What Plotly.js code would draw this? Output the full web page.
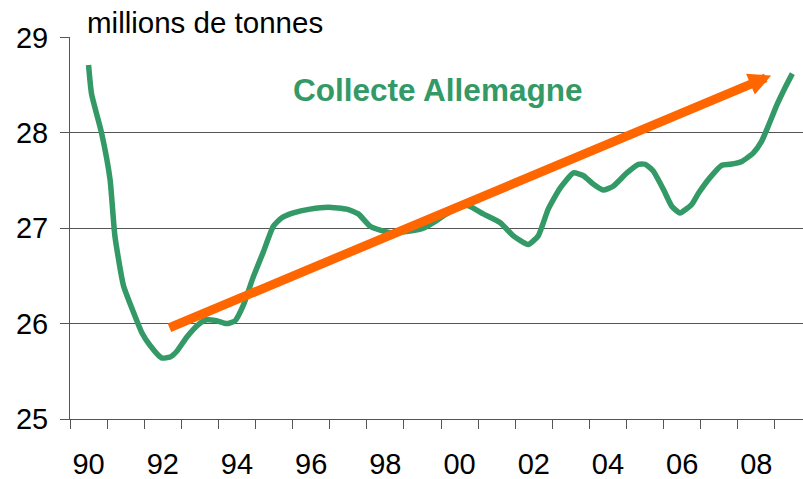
<!DOCTYPE html>
<html>
<head>
<meta charset="utf-8">
<script src="https://cdn.plot.ly/plotly-3.0.1.min.js"></script>
<style>
  html, body { margin: 0; padding: 0; background: #fff; }
  #chart { width: 803px; height: 479px; }
</style>
</head>
<body>
<div id="chart"></div>
<script>
// Collecte de lait en Allemagne (millions de tonnes)
const periods = [
  1990.00, 1990.08, 1990.35, 1990.58, 1990.71, 1990.94, 1991.21, 1991.43, 1991.66, 1991.97,
  1992.20, 1992.38, 1992.65, 1992.96, 1993.18, 1993.45, 1993.72, 1993.95, 1994.17, 1994.44,
  1994.71, 1994.98, 1995.21, 1995.52, 1995.97, 1996.46, 1996.96, 1997.27, 1997.59, 1997.86,
  1998.21, 1998.66, 1999.02, 1999.38, 1999.65, 2000.19, 2000.64, 2001.09, 2001.45, 2001.85,
  2002.12, 2002.39, 2002.71, 2003.07, 2003.34, 2003.61, 2003.87, 2004.14, 2004.51, 2004.82,
  2005.00, 2005.22, 2005.49, 2005.72, 2005.94, 2006.26, 2006.43, 2006.75, 2007.07, 2007.29,
  2007.61, 2007.92, 2008.14, 2008.32, 2008.55, 2008.77, 2008.97
];
const collecte = [
  28.71, 28.41, 28.00, 27.51, 26.92, 26.40, 26.12, 25.91, 25.77, 25.64,
  25.65, 25.71, 25.86, 25.99, 26.04, 26.03, 26.00, 26.03, 26.19, 26.49,
  26.75, 27.02, 27.11, 27.16, 27.20, 27.22, 27.20, 27.15, 27.02, 26.98,
  26.95, 26.97, 27.00, 27.08, 27.15, 27.24, 27.15, 27.06, 26.92, 26.83,
  26.92, 27.20, 27.42, 27.58, 27.55, 27.46, 27.40, 27.44, 27.58, 27.67,
  27.67, 27.60, 27.41, 27.23, 27.16, 27.25, 27.36, 27.53, 27.66, 27.67,
  27.70, 27.79, 27.91, 28.07, 28.29, 28.47, 28.62
];

// flèche de tendance : départ et pointe
const trendStart = [1992.14, 25.95];
const trendEnd = [2008.40, 28.60];

const labelYears = [1990, 1992, 1994, 1996, 1998, 2000, 2002, 2004, 2006, 2008];
const labelText = ['90', '92', '94', '96', '98', '00', '02', '04', '06', '08'];
const yTicks = [25, 26, 27, 28, 29];

const GREEN = '#339966';
const ORANGE = '#FF6600';
const GRID = '#555555';

const boundaries = [];
for (let y = 1989.5; y <= 2009.5; y += 1) boundaries.push(y);

const data = [{
  x: periods,
  y: collecte,
  type: 'scatter',
  mode: 'lines',
  line: { color: GREEN, width: 5.5, shape: 'spline', smoothing: 0.5 },
  hoverinfo: 'x+y'
}];

const layout = {
  width: 803,
  height: 479,
  margin: { l: 70, r: 0, t: 37, b: 60 },
  paper_bgcolor: '#ffffff',
  plot_bgcolor: '#ffffff',
  showlegend: false,
  font: { family: 'Liberation Sans, Arial, sans-serif', color: '#000', size: 29 },
  xaxis: {
    range: [1989.5, 2009.257],
    tickmode: 'array',
    tickvals: labelYears,
    ticktext: labelText,
    ticks: 'outside',
    ticklen: 0,
    ticklabelstandoff: 19,
    tickfont: { size: 29 },
    showgrid: false,
    zeroline: false,
    showline: true,
    linecolor: GRID,
    linewidth: 1,
    minor: {
      tickmode: 'array',
      tickvals: boundaries,
      ticks: 'outside',
      ticklen: 9,
      tickcolor: GRID,
      tickwidth: 1
    }
  },
  yaxis: {
    range: [25, 29.004],
    tickmode: 'array',
    tickvals: yTicks,
    ticks: 'outside',
    ticklen: 9,
    tickcolor: GRID,
    ticklabelstandoff: 6,
    tickfont: { size: 29 },
    showgrid: true,
    gridcolor: GRID,
    gridwidth: 1,
    zeroline: false,
    showline: true,
    linecolor: GRID,
    linewidth: 1
  },
  annotations: [
    {
      xref: 'x', yref: 'y',
      x: trendEnd[0], y: trendEnd[1],
      axref: 'x', ayref: 'y',
      ax: trendStart[0], ay: trendStart[1],
      text: '',
      showarrow: true,
      arrowhead: 2,
      arrowsize: 0.5,
      arrowwidth: 9,
      arrowcolor: ORANGE
    },
    {
      xref: 'paper', yref: 'paper',
      x: 0.0205, y: 1,
      xanchor: 'left', yanchor: 'bottom',
      yshift: -4,
      text: 'millions de tonnes',
      showarrow: false,
      font: { size: 29.5, color: '#000' }
    },
    {
      xref: 'paper', yref: 'paper',
      x: 0.5007, y: 0.861,
      xanchor: 'center', yanchor: 'middle',
      text: '<b>Collecte Allemagne</b>',
      showarrow: false,
      font: { size: 31.5, color: GREEN }
    }
  ]
};

Plotly.newPlot('chart', data, layout, { displayModeBar: false, staticPlot: true });
</script>
</body>
</html>
